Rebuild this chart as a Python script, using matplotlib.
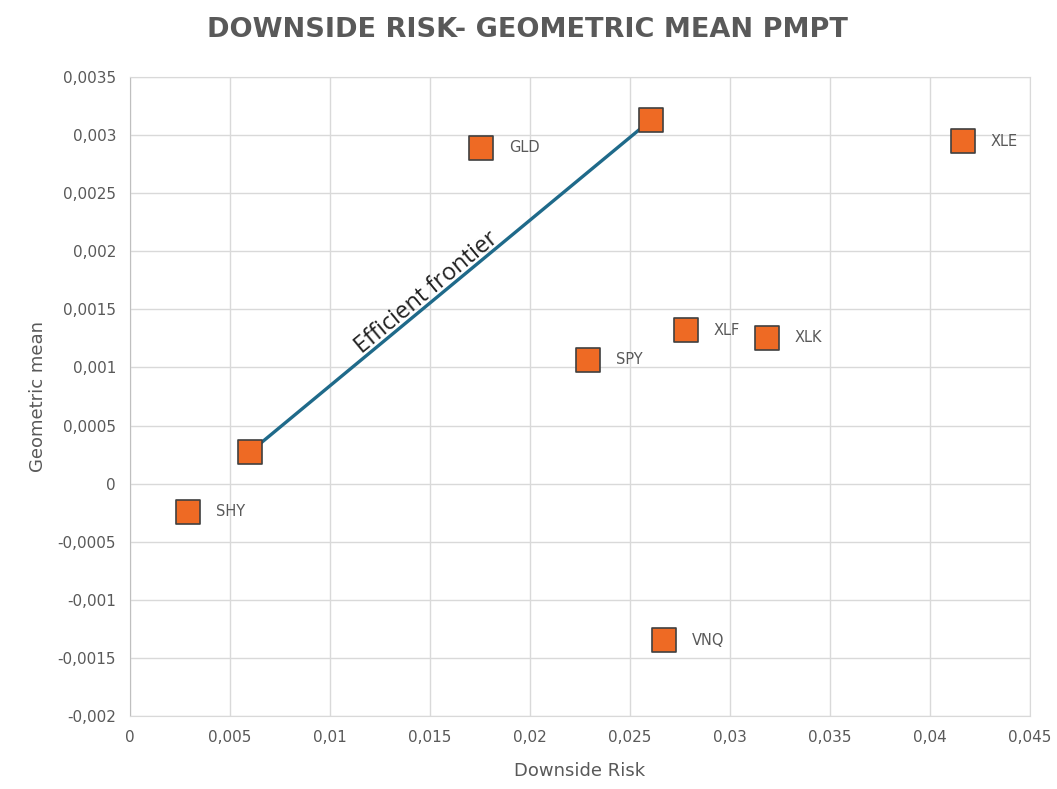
import matplotlib
matplotlib.use("Agg")
import matplotlib.pyplot as plt
from matplotlib.ticker import FuncFormatter, MultipleLocator

# downside risk vs geometric mean per asset
tickers = ["SHY", "", "GLD", "", "SPY", "XLF", "XLK", "XLE", "VNQ"]
downside_risk = [0.0029, 0.0060, 0.01755, 0.02605, 0.0229, 0.0278, 0.03185, 0.04165, 0.0267]
geo_mean = [-0.000244, 0.000272, 0.002889, 0.00313, 0.001064, 0.00132, 0.001254, 0.002948, -0.001346]

# frontier endpoints (indices into the lists above)
frontier = [1, 3]

def comma(v, pos):
    if abs(v) < 1e-12:
        return "0"
    return f"{v:g}".replace(".", ",")

fig = plt.figure(figsize=(10.57, 7.89), dpi=100)
ax = fig.add_axes([0.123, 0.0925, 0.8515, 0.81])

ax.plot([downside_risk[i] for i in frontier], [geo_mean[i] for i in frontier],
        color="#1f6a8a", lw=2.4, zorder=2)
ax.scatter(downside_risk, geo_mean, marker="s", s=300, color="#ee6a24",
           edgecolor="#404040", linewidth=1.2, zorder=3)
for x, y, t in zip(downside_risk, geo_mean, tickers):
    if t:
        ax.annotate(t, (x, y), xytext=(20, 0), textcoords="offset points",
                    va="center", ha="left", fontsize=10.5, color="#595959")

ax.text(0.01485, 0.00164, "Efficient frontier", rotation=39.6, fontsize=17,
        family="Open Sans", ha="center", va="center", color="#222222",
        rotation_mode="anchor")

ax.set_xlim(0, 0.045)
ax.set_ylim(-0.002, 0.0035)
ax.xaxis.set_major_locator(MultipleLocator(0.005))
ax.yaxis.set_major_locator(MultipleLocator(0.0005))
ax.xaxis.set_major_formatter(FuncFormatter(comma))
ax.yaxis.set_major_formatter(FuncFormatter(comma))
ax.grid(True, color="#d9d9d9", lw=1)
ax.set_axisbelow(True)
for s in ax.spines.values():
    s.set_color("#d9d9d9")
ax.spines["left"].set_color("#bfbfbf")
ax.tick_params(length=0, labelsize=11, labelcolor="#595959", pad=10)

ax.set_xlabel("Downside Risk", fontsize=13, color="#595959", labelpad=12)
ax.set_ylabel("Geometric mean", fontsize=13, color="#595959", labelpad=8)
fig.text(0.499, 0.962, "DOWNSIDE RISK- GEOMETRIC MEAN PMPT", ha="center", va="center",
         fontsize=19.5, fontweight="bold", color="#595959")

fig.savefig("out.png", dpi=100, facecolor="white")
